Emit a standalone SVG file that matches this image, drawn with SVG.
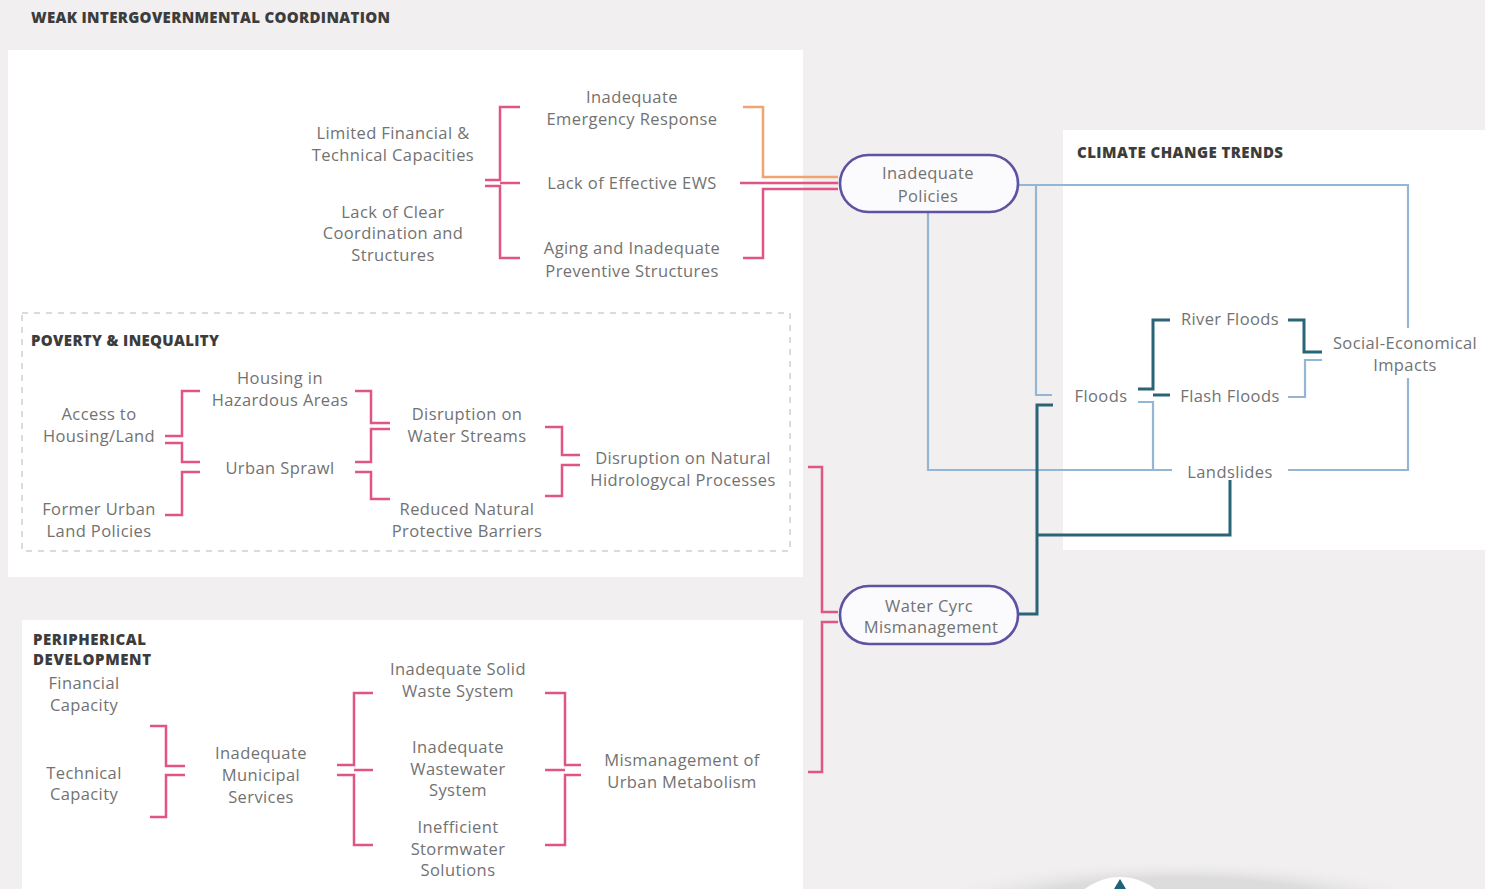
<svg xmlns="http://www.w3.org/2000/svg" width="1485" height="889" viewBox="0 0 1485 889">
<defs>
<style>
.t{font-family:"Open Sans",Lato,"Liberation Sans",sans-serif;font-size:16.5px;letter-spacing:0.4px;fill:#727272;text-anchor:middle;dominant-baseline:central}
.h{font-family:"Open Sans",Lato,"Liberation Sans",sans-serif;font-size:15px;font-weight:800;fill:#3c3c3c;dominant-baseline:central}
.pk{fill:none;stroke:#e05583;stroke-width:2.5}
.or{fill:none;stroke:#f0a474;stroke-width:2.5}
.lb{fill:none;stroke:#93b6d6;stroke-width:2.2}
.dk{fill:none;stroke:#2a6477;stroke-width:3}
.pill{fill:#fbfbfd;stroke:#5e52a3;stroke-width:2.6}
</style>
<radialGradient id="sh" cx="0.5" cy="0.5" r="0.5">
<stop offset="0.6" stop-color="#cfcfcf" stop-opacity="0.6"/>
<stop offset="1" stop-color="#f1eff0" stop-opacity="0"/>
</radialGradient>
</defs>
<rect width="1485" height="889" fill="#f1eff0"/>
<g id="panels">
<rect x="8" y="50" width="795" height="527" fill="#ffffff"/>
<rect x="22" y="620" width="781" height="269" fill="#ffffff"/>
<rect x="1063" y="130" width="422" height="420" fill="#ffffff"/>
<rect x="22" y="313" width="768" height="238" fill="none" stroke="#cfcfcf" stroke-width="1.5" stroke-dasharray="6 6"/>
</g>
<g id="titles">
<text class="h" x="31" y="17" textLength="359">WEAK INTERGOVERNMENTAL COORDINATION</text>
<text class="h" x="1077" y="152" textLength="206">CLIMATE CHANGE TRENDS</text>
<text class="h" x="31" y="340" textLength="188">POVERTY &amp; INEQUALITY</text>
<text class="h" x="33" y="639" textLength="113">PERIPHERICAL</text>
<text class="h" x="33" y="659" textLength="118">DEVELOPMENT</text>
</g>
<g id="connectors">
<path class="pk" d="M520,107 H500 V180 H485"/>
<path class="pk" d="M485,186 H500 V258 H520"/>
<path class="pk" d="M500,183 H520"/>
<path class="or" d="M743,107 H763 V177 H838"/>
<path class="pk" d="M740,183 H838"/>
<path class="pk" d="M743,258 H763 V189 H838"/>
<path class="pk" d="M200,391 H182 V436 H165"/>
<path class="pk" d="M165,443 H182 V462 H200"/>
<path class="pk" d="M200,472 H182 V515 H165"/>
<path class="pk" d="M355,391 H371 V423 H390"/>
<path class="pk" d="M390,429 H371 V462 H355"/>
<path class="pk" d="M355,472 H371 V499 H390"/>
<path class="pk" d="M545,427 H562 V455 H580"/>
<path class="pk" d="M580,465 H562 V496 H545"/>
<path class="pk" d="M150,726 H166 V766 H185"/>
<path class="pk" d="M185,775 H166 V817 H150"/>
<path class="pk" d="M373,693 H354 V765 H337"/>
<path class="pk" d="M337,775 H354 V845 H373"/>
<path class="pk" d="M354,770 H373"/>
<path class="pk" d="M545,693 H565 V765 H581"/>
<path class="pk" d="M581,775 H565 V845 H545"/>
<path class="pk" d="M545,770 H565"/>
<path class="pk" d="M808,467 H822 V612 H838"/>
<path class="pk" d="M808,772 H822 V622 H838"/>
<path class="lb" d="M1018,185 H1408 V328"/>
<path class="lb" d="M1408,378 V470 H1288"/>
<path class="lb" d="M1036,185 V395 H1052"/>
<path class="lb" d="M928,212 V470 H1172"/>
<path class="lb" d="M1138,402 H1153 V470"/>
<path class="lb" d="M1288,397 H1305 V360 H1322"/>
<path class="dk" d="M1138,389 H1153 V320 H1170"/>
<path class="dk" d="M1153,395 H1170"/>
<path class="dk" d="M1288,320 H1304 V352 H1322"/>
<path class="dk" d="M1018,614 H1037 V405 H1053"/>
<path class="dk" d="M1037,535 H1230 V480"/>
</g>
<g id="n-limited"><text class="t" x="393" y="132">Limited Financial &amp;</text><text class="t" x="393" y="154">Technical Capacities</text></g>
<g id="n-lackclear"><text class="t" x="393" y="211">Lack of Clear</text><text class="t" x="393" y="232">Coordination and</text><text class="t" x="393" y="254">Structures</text></g>
<g id="n-emergency"><text class="t" x="632" y="96">Inadequate</text><text class="t" x="632" y="118">Emergency Response</text></g>
<g id="n-ews"><text class="t" x="632" y="182">Lack of Effective EWS</text></g>
<g id="n-aging"><text class="t" x="632" y="247">Aging and Inadequate</text><text class="t" x="632" y="270">Preventive Structures</text></g>
<g id="n-policies"><rect class="pill" x="840" y="155" width="178" height="57" rx="28.5"/><text class="t" x="928" y="172">Inadequate</text><text class="t" x="928" y="195">Policies</text></g>
<g id="n-access"><text class="t" x="99" y="413">Access to</text><text class="t" x="99" y="435">Housing/Land</text></g>
<g id="n-former"><text class="t" x="99" y="508">Former Urban</text><text class="t" x="99" y="530">Land Policies</text></g>
<g id="n-hazard"><text class="t" x="280" y="377">Housing in</text><text class="t" x="280" y="399">Hazardous Areas</text></g>
<g id="n-sprawl"><text class="t" x="280" y="467">Urban Sprawl</text></g>
<g id="n-streams"><text class="t" x="467" y="413">Disruption on</text><text class="t" x="467" y="435">Water Streams</text></g>
<g id="n-barriers"><text class="t" x="467" y="508">Reduced Natural</text><text class="t" x="467" y="530">Protective Barriers</text></g>
<g id="n-hydro"><text class="t" x="683" y="457">Disruption on Natural</text><text class="t" x="683" y="479">Hidrologycal Processes</text></g>
<g id="n-financial"><text class="t" x="84" y="682">Financial</text><text class="t" x="84" y="704">Capacity</text></g>
<g id="n-technical"><text class="t" x="84" y="772">Technical</text><text class="t" x="84" y="793">Capacity</text></g>
<g id="n-municipal"><text class="t" x="261" y="752">Inadequate</text><text class="t" x="261" y="774">Municipal</text><text class="t" x="261" y="796">Services</text></g>
<g id="n-solid"><text class="t" x="458" y="668">Inadequate Solid</text><text class="t" x="458" y="690">Waste System</text></g>
<g id="n-wastewater"><text class="t" x="458" y="746">Inadequate</text><text class="t" x="458" y="768">Wastewater</text><text class="t" x="458" y="789">System</text></g>
<g id="n-storm"><text class="t" x="458" y="826">Inefficient</text><text class="t" x="458" y="848">Stormwater</text><text class="t" x="458" y="869">Solutions</text></g>
<g id="n-metabolism"><text class="t" x="682" y="759">Mismanagement of</text><text class="t" x="682" y="781">Urban Metabolism</text></g>
<g id="n-water"><rect class="pill" x="840" y="586" width="178" height="58" rx="29"/><text class="t" x="929" y="605">Water Cyrc</text><text class="t" x="931" y="626">Mismanagement</text></g>
<g id="n-floods"><text class="t" x="1101" y="395">Floods</text></g>
<g id="n-river"><text class="t" x="1230" y="318">River Floods</text></g>
<g id="n-flash"><text class="t" x="1230" y="395">Flash Floods</text></g>
<g id="n-landslides"><text class="t" x="1230" y="471">Landslides</text></g>
<g id="n-social"><text class="t" x="1405" y="342">Social-Economical</text><text class="t" x="1405" y="364">Impacts</text></g>
<g id="corner-button">
<ellipse cx="1180" cy="905" rx="260" ry="45" fill="url(#sh)"/>
<circle cx="1120" cy="935" r="58" fill="#ffffff"/>
<polygon points="1120,879 1114,889 1126,889" fill="#1e6378"/>
</g>
</svg>
